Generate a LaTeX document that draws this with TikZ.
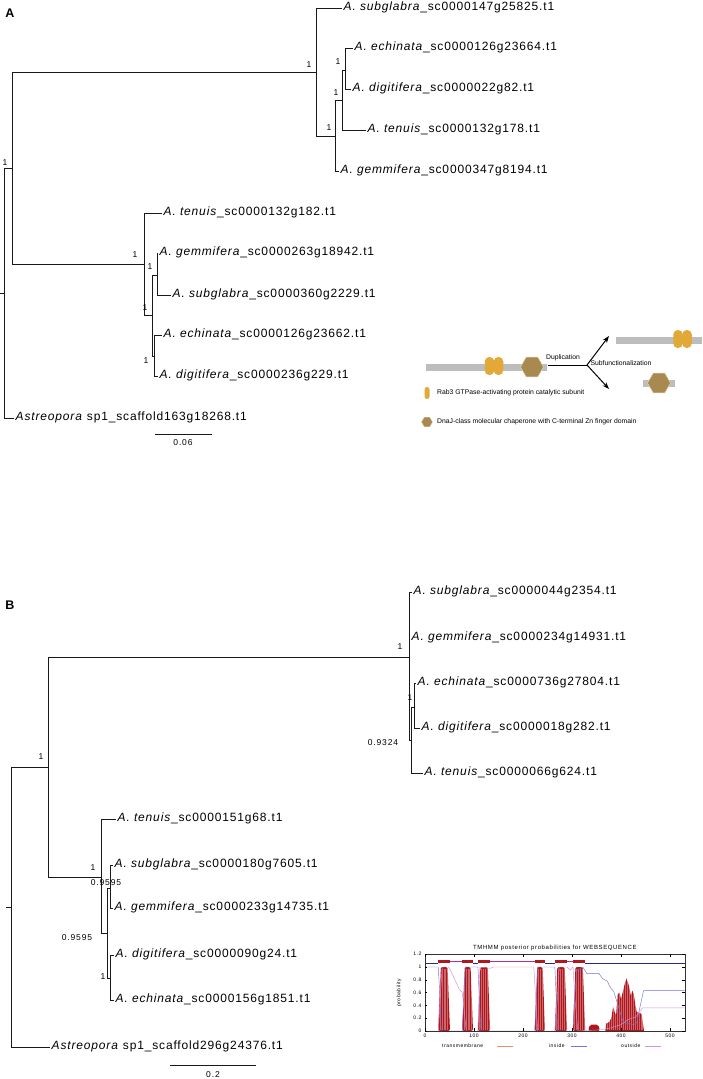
\documentclass[tikz,border=0pt]{standalone}
\usepackage{fontspec}
\setmainfont{Liberation Sans}
\newfontfamily\lblfont[LetterSpace=7]{Liberation Sans}
\newfontfamily\smlfont[LetterSpace=10]{Liberation Sans}
\usetikzlibrary{shapes.geometric,arrows.meta}
\definecolor{bargray}{HTML}{BDBDBD}
\definecolor{pillyel}{HTML}{E2A838}
\definecolor{hexbrown}{HTML}{A8894F}
\definecolor{hexedge}{HTML}{E6D6B0}
\definecolor{tmred}{HTML}{B0161B}
\definecolor{inblue}{HTML}{7474D8}
\definecolor{outpink}{HTML}{D98ED9}
\definecolor{topnavy}{HTML}{2A2A80}
\definecolor{topmag}{HTML}{B0309A}
\definecolor{tmsalmon}{HTML}{E8906A}
\begin{document}
\begin{tikzpicture}[x=1pt,y=-1pt,
  br/.style={line width=0.95pt,black!90},
  leaf/.style={anchor=west,inner sep=1.5pt,text height=8pt,text depth=2.5pt,font=\lblfont\fontsize{12}{14}\selectfont},
  bsupp/.style={inner sep=0pt,font=\smlfont\fontsize{8.5}{10}\selectfont},
  panel/.style={inner sep=0pt,font=\bfseries\fontsize{12.5}{14}\selectfont},
  bar/.style={rectangle,fill=bargray,inner sep=0pt,minimum height=7pt},
  pill/.style={rectangle,rounded corners=4.5pt,fill=pillyel,inner sep=0pt,minimum width=9.5pt,minimum height=18pt},
  hex/.style={regular polygon,regular polygon sides=6,fill=hexbrown,draw=hexedge,line width=0.5pt,inner sep=0pt,minimum size=23pt},
  dtext/.style={inner sep=0pt,font=\fontsize{6.8}{8}\selectfont},
  ptext/.style={inner sep=0pt,font=\smlfont\fontsize{5}{6}\selectfont},
  arr/.style={line width=1pt,-{Stealth[length=7pt,width=5pt]}}
]
\useasboundingbox (0,0) rectangle (702,1079);
\fill[white] (0,0) rectangle (702,1079);

% ---------------- Panel A ----------------
\node[panel] (labA) at (10,13) {A};
\coordinate (rA0) at (0,293);
\coordinate (rA) at (4,293);
\coordinate (iA) at (12,168);
\coordinate (A1) at (316,72);
\coordinate (A2) at (335,136);
\coordinate (A3) at (342,100);
\coordinate (A4) at (345,70);
\coordinate (A5) at (144,264);
\coordinate (A6) at (152,315);
\coordinate (A7) at (157,275);
\coordinate (A8) at (154,356);

\node[leaf] (a1) at (342,8) {\textit{A. subglabra}\_sc0000147g25825.t1};
\node[leaf] (a2) at (353,48) {\textit{A. echinata}\_sc0000126g23664.t1};
\node[leaf] (a3) at (351,89) {\textit{A. digitifera}\_sc0000022g82.t1};
\node[leaf] (a4) at (366,130) {\textit{A. tenuis}\_sc0000132g178.t1};
\node[leaf] (a5) at (339,171) {\textit{A. gemmifera}\_sc0000347g8194.t1};
\node[leaf] (a6) at (162,213) {\textit{A. tenuis}\_sc0000132g182.t1};
\node[leaf] (a7) at (158,253) {\textit{A. gemmifera}\_sc0000263g18942.t1};
\node[leaf] (a8) at (171,295) {\textit{A. subglabra}\_sc0000360g2229.t1};
\node[leaf] (a9) at (162,335) {\textit{A. echinata}\_sc0000126g23662.t1};
\node[leaf] (a10) at (158,376) {\textit{A. digitifera}\_sc0000236g229.t1};
\node[leaf] (aA) at (14,418) {\textit{Astreopora} sp1\_scaffold163g18268.t1};

\draw[br] (rA0) -- (rA);
\draw[br] (rA) |- (iA);
\draw[br] (rA) |- (aA.west);
\draw[br] (iA) |- (A1);
\draw[br] (iA) |- (A5);
\draw[br] (A1) |- (a1.west);
\draw[br] (A1) |- (A2);
\draw[br] (A2) |- (A3);
\draw[br] (A2) |- (a5.west);
\draw[br] (A3) |- (A4);
\draw[br] (A3) |- (a4.west);
\draw[br] (A4) |- (a2.west);
\draw[br] (A4) |- (a3.west);
\draw[br] (A5) |- (a6.west);
\draw[br] (A5) |- (A6);
\draw[br] (A6) |- (A7);
\draw[br] (A6) |- (A8);
\draw[br] (A7) |- (a7.west);
\draw[br] (A7) |- (a8.west);
\draw[br] (A8) |- (a9.west);
\draw[br] (A8) |- (a10.west);

\node[bsupp] (sA0) at (5,163) {1};
\node[bsupp] (sA1) at (309,65) {1};
\node[bsupp] (sA2) at (329,128) {1};
\node[bsupp] (sA3) at (336,93) {1};
\node[bsupp] (sA4) at (338,62) {1};
\node[bsupp] (sA5) at (135,255) {1};
\node[bsupp] (sA6) at (145,308) {1};
\node[bsupp] (sA7) at (150,267) {1};
\node[bsupp] (sA8) at (146,361) {1};

\coordinate (sbA0) at (155,434);
\coordinate (sbA1) at (212,434);
\draw[br] (sbA0) -- (sbA1);
\node[bsupp] (sbAl) at (183,443) {0.06};

% ---------------- Domain illustration ----------------
\node[bar,minimum width=121pt] (bar1) at (486.5,367) {};
\node[pill] (p1a) at (489.5,366) {};
\node[pill] (p1b) at (498.5,366) {};
\node[hex] (h1) at (532,367) {};
\node[bar,minimum width=86pt] (bar2) at (659,340) {};
\node[pill] (p2a) at (678,339) {};
\node[pill] (p2b) at (687,339) {};
\node[bar,minimum width=32pt] (bar3) at (659,383) {};
\node[hex] (h2) at (659,383) {};

\coordinate (d0) at (548,365);
\coordinate (fork) at (587,365);
\coordinate (up) at (609,336);
\coordinate (dn) at (609,389);
\draw[line width=1pt] (d0) -- (fork);
\draw[arr] (fork) -- (up);
\draw[arr] (fork) -- (dn);
\node[dtext] (dupl) at (563,358) {Duplication};
\node[dtext] (subf) at (621,363) {Subfunctionalization};

\node[pill,minimum width=5pt,minimum height=12pt,rounded corners=2.5pt] (lp) at (427,393) {};
\node[dtext,anchor=west] (lpt) at (437,393) {Rab3 GTPase-activating protein catalytic subunit};
\node[hex,minimum size=11pt,line width=0.3pt] (lh) at (427,422) {};
\node[dtext,anchor=west] (lht) at (437,422) {DnaJ-class molecular chaperone with C-terminal Zn finger domain};

% ---------------- Panel B ----------------
\node[panel] (labB) at (10,605) {B};
\coordinate (rB0) at (6,907);
\coordinate (rB) at (11,907);
\coordinate (iB) at (48,767);
\coordinate (B2) at (409,657);
\coordinate (B3) at (411,740);
\coordinate (B4) at (414,707);
\coordinate (C1) at (101,877);
\coordinate (C2) at (107,933);
\coordinate (C3) at (110,888);
\coordinate (C4) at (110,978);

\node[leaf] (b1) at (412,592) {\textit{A. subglabra}\_sc0000044g2354.t1};
\node[leaf] (b2) at (410,638) {\textit{A. gemmifera}\_sc0000234g14931.t1};
\node[leaf] (b3) at (416,683) {\textit{A. echinata}\_sc0000736g27804.t1};
\node[leaf] (b4) at (420,728) {\textit{A. digitifera}\_sc0000018g282.t1};
\node[leaf] (b5) at (423,773) {\textit{A. tenuis}\_sc0000066g624.t1};
\node[leaf] (c1) at (116,819) {\textit{A. tenuis}\_sc0000151g68.t1};
\node[leaf] (c2) at (113,865) {\textit{A. subglabra}\_sc0000180g7605.t1};
\node[leaf] (c3) at (113,908) {\textit{A. gemmifera}\_sc0000233g14735.t1};
\node[leaf] (c4) at (114,955) {\textit{A. digitifera}\_sc0000090g24.t1};
\node[leaf] (c5) at (114,1000) {\textit{A. echinata}\_sc0000156g1851.t1};
\node[leaf] (bA) at (50,1047) {\textit{Astreopora} sp1\_scaffold296g24376.t1};

\draw[br] (rB0) -- (rB);
\draw[br] (rB) |- (iB);
\draw[br] (rB) |- (bA.west);
\draw[br] (iB) |- (B2);
\draw[br] (iB) |- (C1);
\draw[br] (B2) |- (b1.west);
\draw[br] (B2) |- (b2.west);
\draw[br] (B2) |- (B3);
\draw[br] (B3) |- (B4);
\draw[br] (B3) |- (b5.west);
\draw[br] (B4) |- (b3.west);
\draw[br] (B4) |- (b4.west);
\draw[br] (C1) |- (c1.west);
\draw[br] (C1) |- (C2);
\draw[br] (C2) |- (C3);
\draw[br] (C2) |- (C4);
\draw[br] (C3) |- (c2.west);
\draw[br] (C3) |- (c3.west);
\draw[br] (C4) |- (c4.west);
\draw[br] (C4) |- (c5.west);

\node[bsupp] (sB1) at (41,757) {1};
\node[bsupp] (sB2) at (400,647) {1};
\node[bsupp] (sB3) at (383,743) {0.9324};
\node[bsupp] (sB4) at (410,698) {1};
\node[bsupp] (sC1) at (93,868) {1};
\node[bsupp] (sC3) at (106,883) {0.9595};
\node[bsupp] (sC2) at (77,938) {0.9595};
\node[bsupp] (sC4) at (103,977) {1};

\coordinate (sbB0) at (170,1065);
\coordinate (sbB1) at (256,1065);
\draw[br] (sbB0) -- (sbB1);
\node[bsupp] (sbBl) at (213,1075) {0.2};

% ---------------- TMHMM plot ----------------
\begin{scope}[shift={(425,1031)},x=0.49pt,y=64pt]
  % TM regions
  \foreach \a/\b in {27/51,76/98,108/133,224/245,265/290,302/327}{
    \fill[tmred,rounded corners=2pt] (\a,0) -- (\a+3,0.6) -- (\a+5,1) -- (\b-5,1) -- (\b-3,0.6) -- (\b,0) -- cycle;
  }
  \fill[tmred,rounded corners=2pt] (333,0) -- (336,0.1) -- (354,0.1) -- (357,0) -- cycle;
  \fill[tmred] (368,0) -- (370,0.12) -- (376,0.14) -- (380,0.2) -- (384,0.38) -- (387,0.3) -- (390,0.25)
     -- (393,0.57) -- (397,0.6) -- (400,0.5) -- (404,0.62) -- (408,0.75) -- (411,0.82) -- (414,0.76)
     -- (417,0.68) -- (420,0.55) -- (423,0.63) -- (426,0.58) -- (429,0.42) -- (432,0.3) -- (438,0.28)
     -- (442,0.27) -- (445,0.1) -- (447,0) -- cycle;
  \foreach \x in {30,34,...,48,79,83,...,95,111,115,...,131,227,231,...,243,268,272,...,288,305,309,...,325,372,376,...,444}{
    \draw[white,line width=0.2pt,opacity=0.35] (\x,0.02) -- (\x,0.97);
  }
  % curves
  \draw[inblue,line width=0.45pt] (0,1) -- (27,1) -- (30,0.6) -- (33,0) -- (76,0) -- (79,0.5) -- (82,1)
     -- (108,1) -- (111,0.5) -- (114,0) -- (224,0) -- (227,0.5) -- (230,1) -- (265,1) -- (268,0.5) -- (271,0)
     -- (302,0) -- (305,0.5) -- (310,0.95) -- (322,1) -- (330,0.9) -- (355,0.9) -- (362,0.82) -- (372,0.78)
     -- (378,0.68) -- (385,0.62) -- (392,0.45) -- (398,0.3) -- (404,0.15) -- (412,0.12) -- (426,0.1)
     -- (432,0.13) -- (438,0.35) -- (446,0.63) -- (530,0.63);
  \draw[outpink,line width=0.45pt] (0,0) -- (27,0) -- (31,0.5) -- (35,1) -- (48,1) -- (52,0.95) -- (70,0.65)
     -- (76,0.6) -- (79,0.4) -- (84,0) -- (108,0) -- (110,0.5) -- (112,1) -- (133,0.98) -- (140,1)
     -- (222,1) -- (226,0.5) -- (230,0) -- (265,0) -- (270,0.5) -- (274,1) -- (290,1) -- (296,0.95) -- (302,1)
     -- (306,0.5) -- (312,0) -- (360,0.02) -- (380,0.05) -- (400,0.1) -- (415,0.18) -- (430,0.22)
     -- (438,0.3) -- (444,0.36) -- (530,0.36);
  % top bar
  \draw[topnavy,line width=0.6pt] (0,1.06) -- (27,1.06);
  \draw[topnavy,line width=0.6pt] (98,1.06) -- (108,1.06);
  \draw[topnavy,line width=0.6pt] (245,1.06) -- (265,1.06);
  \draw[topnavy,line width=0.6pt] (327,1.06) -- (530,1.06);
  \draw[topmag,line width=0.6pt] (51,1.095) -- (76,1.095);
  \draw[topmag,line width=0.6pt] (133,1.095) -- (224,1.095);
  \draw[topmag,line width=0.6pt] (290,1.095) -- (302,1.095);
  \foreach \a/\b in {27/51,76/98,108/133,224/245,265/290,302/327}{
    \fill[tmred] (\a,1.055) rectangle (\b,1.115);
  }
  % frame and ticks
  \draw[line width=0.4pt,black!80] (0,0) rectangle (530,1.2);
  \foreach \p/\t in {0/0,0.2/0.2,0.4/0.4,0.6/0.6,0.8/0.8,1/1,1.2/1.2}{
    \draw[line width=0.3pt] (0,\p) -- (5,\p);
    \draw[line width=0.3pt] (530,\p) -- (525,\p);
    \node[ptext,anchor=east] at (-7,\p) {\t};
  }
  \foreach \n in {0,100,200,300,400,500}{
    \draw[line width=0.3pt] (\n,0) -- (\n,0.04);
    \draw[line width=0.3pt] (\n,1.2) -- (\n,1.16);
    \node[ptext] at (\n,-0.08) {\n};
  }
  \node[ptext,rotate=90] (ylab) at (-53,0.6) {probability};
  \node[inner sep=0pt,font=\smlfont\fontsize{6}{7}\selectfont] (ttl) at (265,1.3) {TMHMM posterior probabilities for WEBSEQUENCE};
  \node[ptext] (lg1) at (77,-0.234) {transmembrane};
  \draw[tmsalmon,line width=0.4pt] (147,-0.234) -- (180,-0.234);
  \node[ptext] (lg2) at (269,-0.234) {inside};
  \draw[inblue,line width=0.4pt] (298,-0.234) -- (331,-0.234);
  \node[ptext] (lg3) at (420,-0.234) {outside};
  \draw[outpink,line width=0.4pt] (449,-0.234) -- (482,-0.234);
\end{scope}
\end{tikzpicture}
\end{document}
